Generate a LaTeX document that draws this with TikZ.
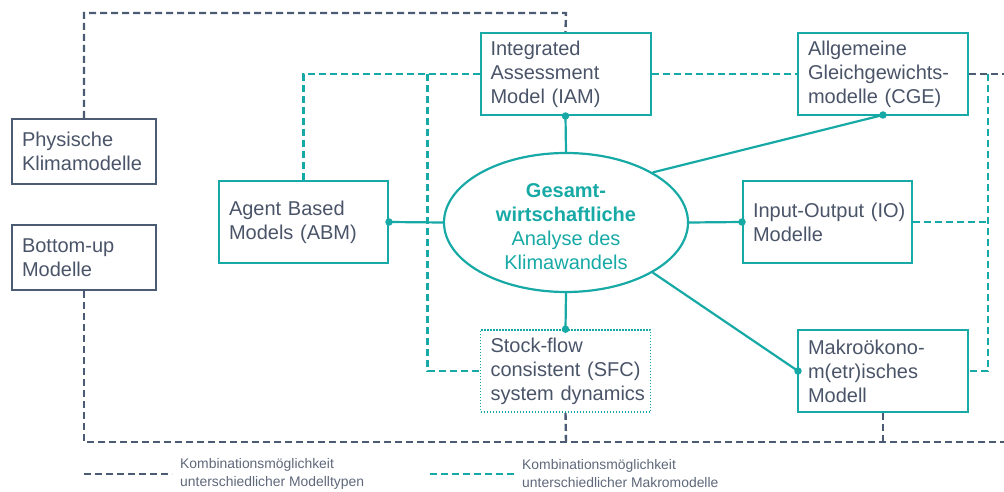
\documentclass[tikz,border=0pt]{standalone}
\usepackage{fontspec}
\setmainfont{Liberation Sans}
\usetikzlibrary{shapes.geometric}
\definecolor{tl}{HTML}{17A9A5}
\definecolor{dk}{HTML}{4B5B73}
\definecolor{tx}{HTML}{4A5468}
\definecolor{lg}{HTML}{5E687A}
\hyphenpenalty=10000
\exhyphenpenalty=10000
\hbadness=10000
\hfuzz=20pt
\begin{document}
\begin{tikzpicture}[x=1pt,y=-1pt,
  boxbase/.style={draw, line width=2pt, text=tx, align=left, font=\fontsize{20}{24}\selectfont, inner ysep=0pt, inner xsep=10pt},
  tbox/.style={boxbase, draw=tl, minimum height=82pt, text width=150pt},
  dbox/.style={boxbase, draw=dk, minimum height=65pt, text width=124pt},
  sbox/.style={tbox, line width=1.6pt, dash pattern=on 1.4pt off 1.6pt},
  ddash/.style={draw=dk, line width=2.4pt, dash pattern=on 7pt off 4pt},
  tdash/.style={draw=tl, line width=2.4pt, dash pattern=on 7pt off 4pt},
  conn/.style={draw=tl, line width=2.2pt},
  dotc/.style={fill=tl, circle, inner sep=0pt, minimum size=7.5pt},
  legtext/.style={text=lg, align=left, anchor=west, inner sep=0pt, font=\fontsize{13.9}{18}\selectfont}
]
\useasboundingbox (0,0) rectangle (1004,492);

% boxes
\node[dbox] (phys) at (84,151.5) {Physische\\Klimamodelle};
\node[dbox] (bot) at (84,257.5) {\mbox{Bottom-up}\\Modelle};
\node[tbox, text width=149pt] (abm) at (303.5,222) {\mbox{Agent Based}\\\mbox{Models (ABM)}};
\node[tbox] (iam) at (565.5,74) {Integrated\\Assessment\\\mbox{Model (IAM)}};
\node[tbox] (cge) at (883,74) {Allgemeine\\\mbox{Gleichgewichts-}\\\mbox{modelle (CGE)}};
\node[tbox, text width=149pt] (io) at (827.5,222) {\mbox{Input-Output (IO)}\\Modelle};
\node[sbox] (sfc) at (565.5,371) {\mbox{Stock-flow}\\\mbox{consistent (SFC)}\\\mbox{system dynamics}};
\node[tbox] (mak) at (883,371) {\mbox{Makroökono-}\\\mbox{m(etr)isches}\\Modell};

% central ellipse
\node[ellipse, draw=tl, line width=2.2pt, minimum width=244pt, minimum height=139pt, inner sep=0pt] (e) at (566,222.5) {};
\node[text=tl, align=center, font=\fontsize{20}{24}\selectfont, inner sep=0pt] (etext) at (566,227)
  {\textbf{Gesamt-}\\\textbf{wirtschaftliche}\\Analyse des\\Klimawandels};

% coordinates for dashed routes
\coordinate (dtl) at (84,13);
\coordinate (dtr) at (566,13);
\coordinate (dbl) at (84,442);
\coordinate (dbr) at (1004,442);
\coordinate (dsf) at (566,442);
\coordinate (dmk) at (883,442);
\coordinate (dcr) at (1004,74);
\coordinate (tabm) at (303.5,74);
\coordinate (tv1) at (427.5,74);
\coordinate (tv1b) at (427.5,371);
\coordinate (trt) at (988,74);
\coordinate (trio) at (988,222);
\coordinate (trmk) at (988,371);

% dark dashed
\draw[ddash] (phys.north) -- (dtl) -- (dtr) -- (iam.north);
\draw[ddash] (bot.south) -- (dbl) -- (dbr);
\draw[ddash] (sfc.south) -- (dsf);
\draw[ddash] (mak.south) -- (dmk);
\draw[ddash] (cge.east) -- (dcr);

% teal dashed
\draw[tdash] (iam.west) -- (tabm) -- (abm.north);
\draw[tdash] (tv1) -- (tv1b) -- (sfc.west);
\draw[tdash] (iam.east) -- (cge.west);
\draw[tdash] (trt) -- (trmk) -- (mak.east);
\draw[tdash] (io.east) -- (trio);

% solid connectors
\draw[conn] (iam.south) -- (e.north);
\draw[conn] (abm.east) -- (e.west);
\draw[conn] (e.east) -- (io.west);
\draw[conn] (e.south) -- (sfc.north);
\coordinate (cgeb) at (883,115);
\coordinate (makl) at (798,371);
\draw[conn] (e.30) -- (cgeb);
\draw[conn] (e.-30) -- (makl);

% dots
\node[dotc] at (iam.south) {};
\node[dotc] at (cgeb) {};
\node[dotc] at (abm.east) {};
\node[dotc] at (io.west) {};
\node[dotc] at (sfc.north) {};
\node[dotc] at (makl) {};

% legend
\coordinate (l1a) at (84,474);
\coordinate (l1b) at (172,474);
\coordinate (l2a) at (430,474);
\coordinate (l2b) at (514,474);
\draw[ddash] (l1a) -- (l1b);
\draw[tdash] (l2a) -- (l2b);
\node[legtext] (leg1) at (180,474) {Kombinationsmöglichkeit\\unterschiedlicher Modelltypen};
\node[legtext] (leg2) at (522,474) {Kombinationsmöglichkeit\\unterschiedlicher Makromodelle};
\end{tikzpicture}
\end{document}
